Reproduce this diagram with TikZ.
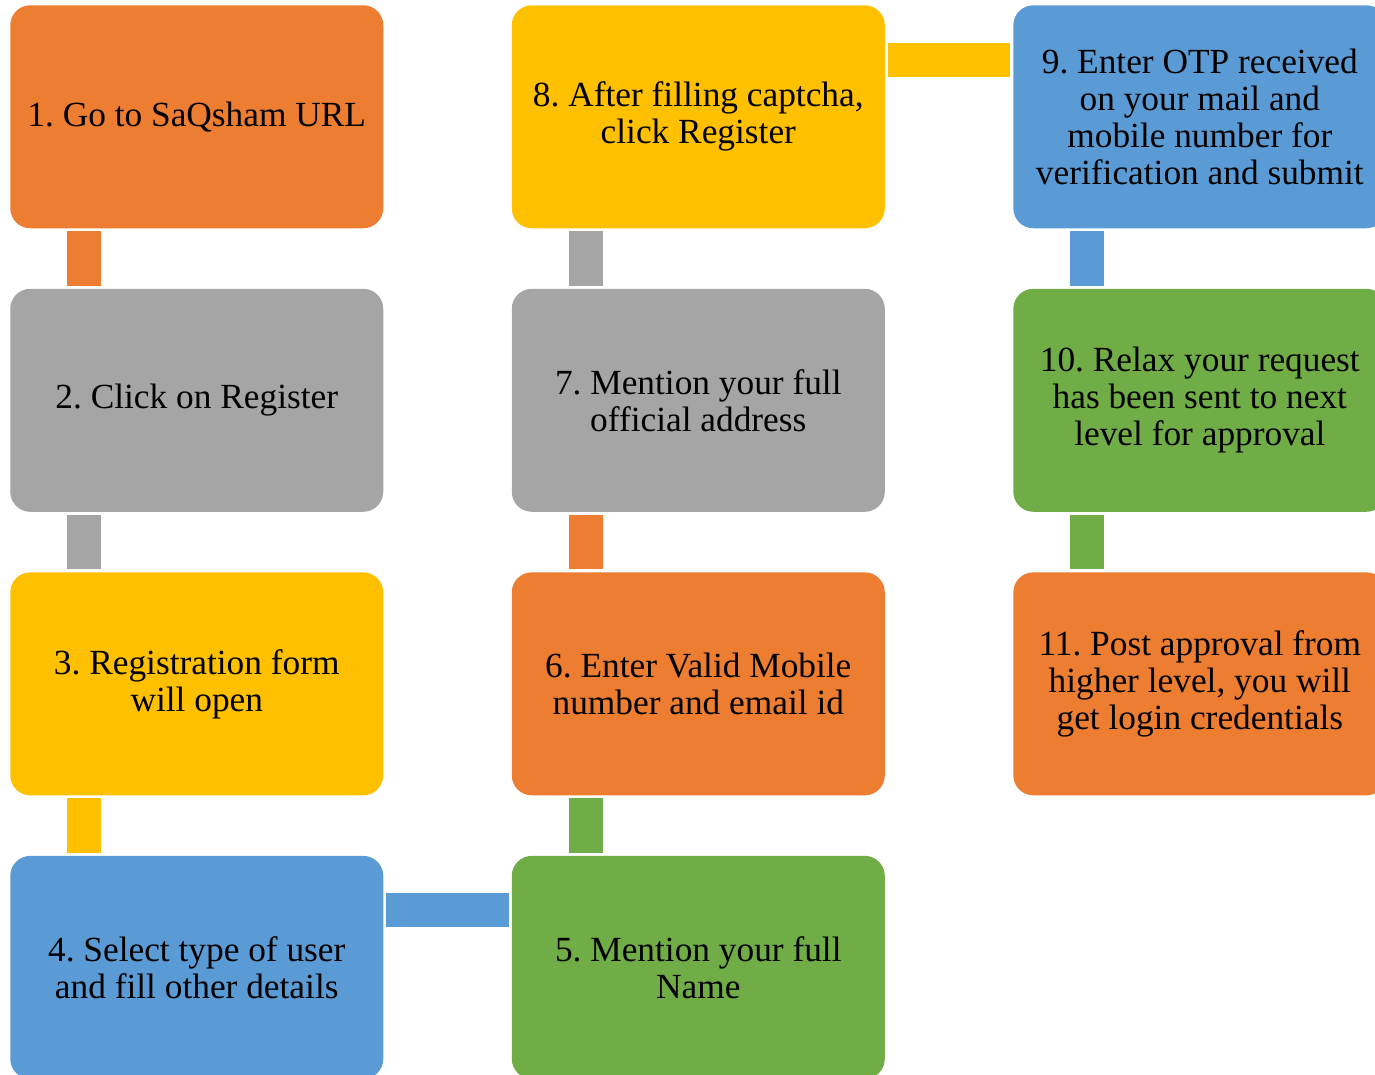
\documentclass[tikz,border=0pt]{standalone}
\usepackage{fontspec}
\setmainfont{Liberation Serif}
\usetikzlibrary{positioning}
\definecolor{accorange}{HTML}{ED7D31}
\definecolor{accgray}{HTML}{A5A5A5}
\definecolor{accyellow}{HTML}{FFC000}
\definecolor{accblue}{HTML}{5B9BD5}
\definecolor{accgreen}{HTML}{70AD47}
\frenchspacing

\begin{document}
\begin{tikzpicture}[node distance=45pt and 96pt,
      box/.style={rectangle,rounded corners=15pt,minimum width=279.75pt,
        minimum height=167.25pt,inner sep=2pt,align=center,
        font=\fontsize{26.5}{27.75}\selectfont},
      link/.style={line width=25.5pt}]
\clip (0,0) rectangle (1031.25pt,-806.25pt);
\node (s1) [box,fill=accorange,anchor=north west] at (7.5pt,-3.75pt) {1. Go to SaQsham URL};
\node (s2) [box,fill=accgray,below=of s1] {2. Click on Register};
\node (s3) [box,fill=accyellow,below=of s2] {3. Registration form\\will open};
\node (s4) [box,fill=accblue,below=of s3] {4. Select type of user\\and fill other details};
\node (s5) [box,fill=accgreen,right=of s4] {5. Mention your full\\Name};
\node (s6) [box,fill=accorange,above=of s5] {6. Enter Valid Mobile\\number and email id};
\node (s7) [box,fill=accgray,above=of s6] {7. Mention your full\\official address};
\node (s8) [box,fill=accyellow,above=of s7] {8. After filling captcha,\\click Register};
\node (s9) [box,fill=accblue,right=of s8] {9. Enter OTP received\\on your mail and\\mobile number for\\verification and submit};
\node (s10) [box,fill=accgreen,below=of s9] {10. Relax your request\\has been sent to next\\level for approval};
\node (s11) [box,fill=accorange,below=of s10] {11. Post approval from\\higher level, you will\\get login credentials};
% vertical links, upper node first
\foreach \u/\l/\c in {s1/s2/accorange, s2/s3/accgray, s3/s4/accyellow,
    s6/s5/accgreen, s7/s6/accorange, s8/s7/accgray,
    s9/s10/accblue, s10/s11/accgreen}
  \draw[link,\c] ([xshift=55.5pt,yshift=-2pt]\u.south west) -- ([xshift=55.5pt,yshift=2pt]\l.north west);
% horizontal links
\draw[link,accblue] ([xshift=2pt,yshift=-40.9pt]s4.north east) -- ([xshift=-2pt,yshift=-40.9pt]s5.north west);
\draw[link,accyellow] ([xshift=2pt,yshift=-40.9pt]s8.north east) -- ([xshift=-2pt,yshift=-40.9pt]s9.north west);
\end{tikzpicture}
\end{document}
